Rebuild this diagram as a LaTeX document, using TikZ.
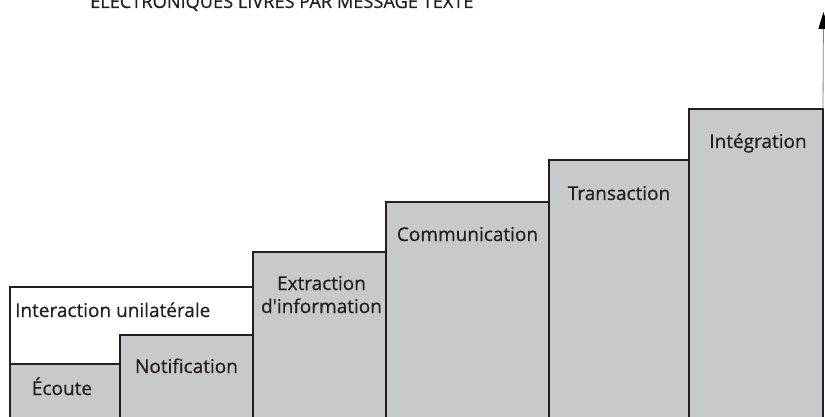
\documentclass[tikz,border=0pt]{standalone}
\usepackage{fontspec}
\setmainfont{Open Sans}
\newfontfamily\lblfont[FakeBold=0.6]{Open Sans}
\usetikzlibrary{calc,arrows.meta}
\definecolor{boxgray}{HTML}{C8C9CB}
\definecolor{edge}{HTML}{231F20}
\begin{document}
\begin{tikzpicture}[x=1pt,y=-1pt,
  stage/.style={draw=edge, line width=2.2pt, fill=boxgray, rectangle, anchor=north west, inner sep=0pt, outer sep=0pt},
  lbl/.style={anchor=base, font=\lblfont\fontsize{19}{23}\selectfont, text=edge, inner sep=0pt, align=center},
  titlefont/.style={font=\lblfont\fontsize{18.2}{22}\selectfont, text=edge, inner sep=0pt}]
\useasboundingbox (0,0) rectangle (825,417);
\node[anchor=base west, titlefont] (title) at (90,8) {ÉLECTRONIQUES LIVRÉS PAR MESSAGE TEXTE};
\node[stage, fill=white, line width=1.5pt, minimum width=243pt, minimum height=143pt] (inter) at (10,287) {};
\node[stage, minimum width=110pt, minimum height=66pt] (ecoute) at (10,364) {};
\node[stage, minimum width=133pt, minimum height=95pt] (notif) at (120,335) {};
\node[stage, minimum width=133pt, minimum height=178pt] (extr) at (253,252) {};
\node[stage, minimum width=163pt, minimum height=228pt] (comm) at (386,202) {};
\node[stage, minimum width=140pt, minimum height=270pt] (trans) at (549,160) {};
\node[stage, minimum width=134pt, minimum height=321pt] (integ) at (689,109) {};
\node[lbl, anchor=base west] (tinter) at ($(inter.north west)+(5,30)$) {Interaction unilatérale};
\node[lbl] (tecoute) at ($(ecoute.north)+(-3,31)$) {Écoute};
\node[lbl] (tnotif) at ($(notif.north)+(0,38)$) {Notification};
\node[lbl] (textr) at ($(extr.north)+(2,61)$) {Extraction\\d\textquotesingle information};
\node[lbl] (tcomm) at ($(comm.north)+(0,39)$) {Communication};
\node[lbl] (ttrans) at ($(trans.north)+(0,40)$) {Transaction};
\node[lbl] (tinteg) at ($(integ.north)+(2,39)$) {Intégration};
\coordinate (tip) at (823.5,12);
\draw[draw=gray, line width=0.8pt, -{Triangle[length=17pt,width=10pt,color=black]}] (integ.north east) -- (tip);
\end{tikzpicture}
\end{document}
